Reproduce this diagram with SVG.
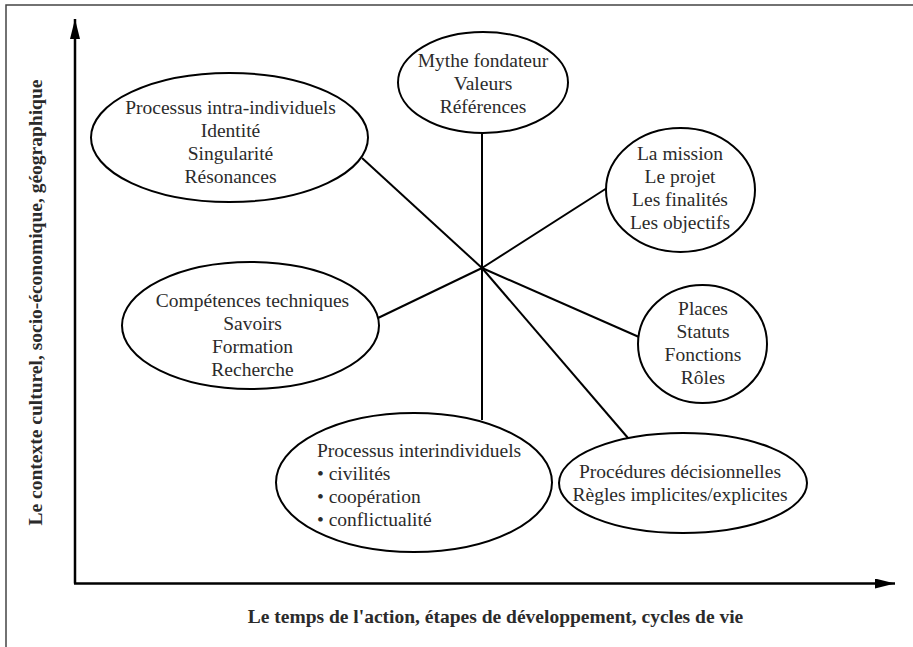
<svg xmlns="http://www.w3.org/2000/svg" width="913" height="647" viewBox="0 0 913 647">
<style>
.t{font-family:"Liberation Serif","Times New Roman",serif;font-size:19.5px;fill:#2b2b2b}
.c{text-anchor:middle}
.b{font-weight:bold}
.n{fill:#fff;stroke:#000;stroke-width:2}
.l{stroke:#000;stroke-width:2;fill:none}
.ax{stroke:#000;stroke-width:2.5;fill:none}
</style>
<defs>
<marker id="ah" viewBox="0 0 20 10" refX="20" refY="5" markerWidth="20" markerHeight="10" markerUnits="userSpaceOnUse" orient="auto">
<path d="M0,0 L20,5 L0,10 Z" fill="#000"/>
</marker>
</defs>
<rect x="0" y="0" width="913" height="647" fill="#fff"/>
<rect x="6" y="5" width="930" height="670" fill="none" stroke="#444" stroke-width="1.5"/>
<g id="axes">
<line class="ax" x1="75" y1="583.5" x2="75" y2="19" marker-end="url(#ah)"/>
<line class="ax" x1="74" y1="583.5" x2="895" y2="583.5" marker-end="url(#ah)"/>
</g>
<g id="connectors">
<line class="l" x1="482" y1="268" x2="482" y2="133"/>
<line class="l" x1="482" y1="268" x2="362" y2="158"/>
<line class="l" x1="482" y1="268" x2="607" y2="188"/>
<line class="l" x1="482" y1="268" x2="639" y2="337"/>
<line class="l" x1="482" y1="268" x2="628" y2="438"/>
<line class="l" x1="482" y1="268" x2="482" y2="420"/>
<line class="l" x1="482" y1="268" x2="378" y2="318"/>
</g>
<g id="mythe">
<ellipse class="n" cx="483" cy="82.5" rx="85" ry="50.5"/>
<text class="t c" x="483" y="67">Mythe fondateur</text>
<text class="t c" x="483" y="90">Valeurs</text>
<text class="t c" x="483" y="113">Références</text>
</g>
<g id="intra">
<ellipse class="n" cx="229.5" cy="137.5" rx="138.5" ry="64.5"/>
<text class="t c" x="230.5" y="114">Processus intra-individuels</text>
<text class="t c" x="230.5" y="137">Identité</text>
<text class="t c" x="230.5" y="160">Singularité</text>
<text class="t c" x="230.5" y="183">Résonances</text>
</g>
<g id="mission">
<ellipse class="n" cx="680.5" cy="190" rx="74.5" ry="62"/>
<text class="t c" x="680" y="160">La mission</text>
<text class="t c" x="680" y="183">Le projet</text>
<text class="t c" x="680" y="206">Les finalités</text>
<text class="t c" x="680" y="229">Les objectifs</text>
</g>
<g id="places">
<ellipse class="n" cx="702.5" cy="344" rx="64.5" ry="59"/>
<text class="t c" x="703" y="315">Places</text>
<text class="t c" x="703" y="338">Statuts</text>
<text class="t c" x="703" y="361">Fonctions</text>
<text class="t c" x="703" y="384">Rôles</text>
</g>
<g id="procedures">
<ellipse class="n" cx="683" cy="483" rx="124" ry="50"/>
<text class="t c" x="680" y="478">Procédures décisionnelles</text>
<text class="t c" x="680" y="501">Règles implicites/explicites</text>
</g>
<g id="inter">
<ellipse class="n" cx="414" cy="482.5" rx="138" ry="69.5"/>
<text class="t" x="317" y="457">Processus interindividuels</text>
<text class="t" x="317" y="480">• civilités</text>
<text class="t" x="317" y="503">• coopération</text>
<text class="t" x="317" y="526">• conflictualité</text>
</g>
<g id="competences">
<ellipse class="n" cx="250.5" cy="325.5" rx="128.5" ry="63.5"/>
<text class="t c" x="252.5" y="307">Compétences techniques</text>
<text class="t c" x="252.5" y="330">Savoirs</text>
<text class="t c" x="252.5" y="353">Formation</text>
<text class="t c" x="252.5" y="376">Recherche</text>
</g>
<g id="labels">
<text class="t c b" transform="translate(42,302.5) rotate(-90)">Le contexte culturel, socio-économique, géographique</text>
<text class="t c b" x="495.5" y="623">Le temps de l'action, étapes de développement, cycles de vie</text>
</g>
</svg>
